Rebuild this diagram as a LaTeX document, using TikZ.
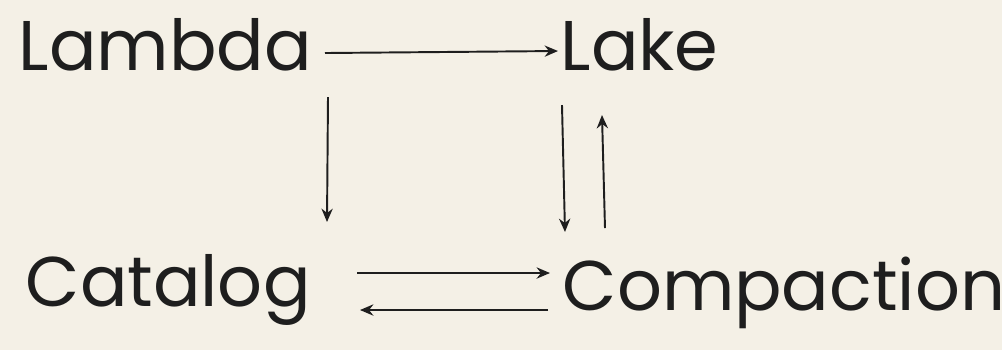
\documentclass[tikz,border=0pt]{standalone}
\usepackage{fontspec}
\setmainfont{Poppins}
\usetikzlibrary{arrows.meta}
\definecolor{paper}{HTML}{F4F0E6}
\definecolor{ink}{HTML}{1E1E1E}
\begin{document}
\begin{tikzpicture}[x=0.01cm,y=-0.01cm,
  word/.style={anchor=base west,inner sep=0pt,text=ink,font=\fontsize{20}{24}\selectfont},
  flow/.style={draw=ink,line width=0.55pt,-{Stealth[length=3.8pt,width=3.2pt]}}]
  % sheet
  \fill[paper] (0,0) rectangle (1002,350);
  \useasboundingbox (0,0) rectangle (1002,350);
  \node[word] (lambda) at (18,70) {Lambda};
  \node[word] (lake) at (560,70) {Lake};
  \node[word] (catalog) at (25,306) {Catalog};
  \node[word] (compaction) at (562,310) {Compaction};
  % top row
  \draw[flow] ([shift={(307,-17)}]lambda.base west) -- ([shift={(-2,-19)}]lake.base west);
  % down to the catalog
  \draw[flow] ([shift={(310,27)}]lambda.base west) -- ([shift={(302,-84)}]catalog.base west);
  % lake <-> compaction
  \draw[flow] ([shift={(2,35)}]lake.base west) -- ([shift={(3,-78)}]compaction.base west);
  \draw[flow] ([shift={(43,-82)}]compaction.base west) -- ([shift={(42,45)}]lake.base west);
  % catalog <-> compaction
  \draw[flow] ([shift={(332,-33)}]catalog.base west) -- ([shift={(-12,-37)}]compaction.base west);
  \draw[flow] ([shift={(-14,0)}]compaction.base west) -- ([shift={(335,4)}]catalog.base west);
\end{tikzpicture}
\end{document}
